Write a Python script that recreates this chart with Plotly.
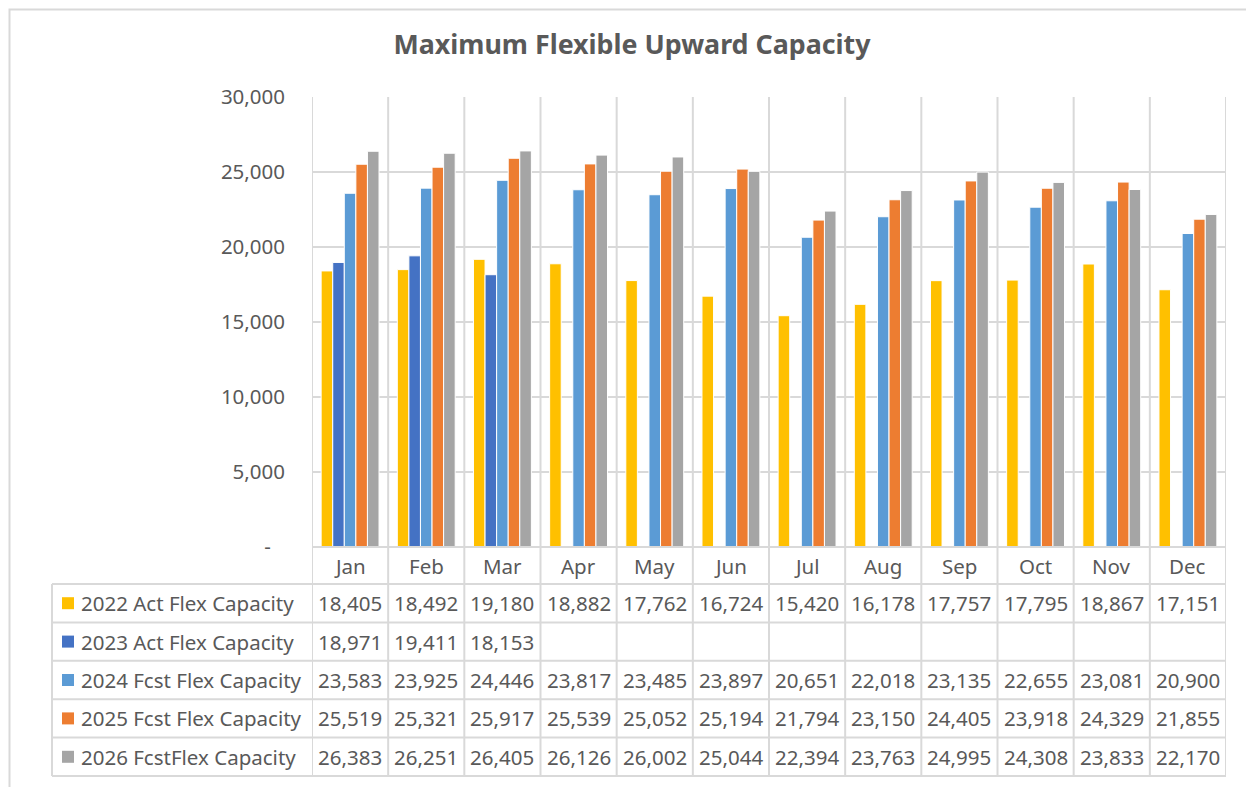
import plotly.graph_objects as go

months = ["Jan", "Feb", "Mar", "Apr", "May", "Jun", "Jul", "Aug", "Sep", "Oct", "Nov", "Dec"]
series_names = ["2022 Act Flex Capacity", "2023 Act Flex Capacity", "2024 Fcst Flex Capacity",
                "2025 Fcst Flex Capacity", "2026 FcstFlex Capacity"]
act_2022 = [18405, 18492, 19180, 18882, 17762, 16724, 15420, 16178, 17757, 17795, 18867, 17151]
act_2023 = [18971, 19411, 18153, None, None, None, None, None, None, None, None, None]
fcst_2024 = [23583, 23925, 24446, 23817, 23485, 23897, 20651, 22018, 23135, 22655, 23081, 20900]
fcst_2025 = [25519, 25321, 25917, 25539, 25052, 25194, 21794, 23150, 24405, 23918, 24329, 21855]
fcst_2026 = [26383, 26251, 26405, 26126, 26002, 25044, 22394, 23763, 24995, 24308, 23833, 22170]
colors = ["#FFC000", "#4472C4", "#5B9BD5", "#ED7D31", "#A5A5A5"]
ytick_vals = [0, 5000, 10000, 15000, 20000, 25000, 30000]
ytick_text = ["-\u00a0\u00a0\u2009", "5,000", "10,000", "15,000", "20,000", "25,000", "30,000"]

all_series = [act_2022, act_2023, fcst_2024, fcst_2025, fcst_2026]

OFF = 8  # page body margin
W, H = 1254 - OFF, 787 - OFF
FONT = "Noto Sans"
TXT = "#595959"
GRID = "#D9D9D9"
FS = 20.5

def px(x):
    return (x - OFF) / W

def py(y):
    return 1 - (y - OFF) / H

plot_l, plot_r, plot_t, plot_b = 312, 1226, 97, 547
table_l = 52
header_b = 584
row_h = 38.4
n_rows = len(series_names)
table_b = header_b + row_h * n_rows

fig = go.Figure()
for name, vals, c in zip(series_names, all_series, colors):
    fig.add_trace(go.Bar(x=months, y=vals, name=name, marker=dict(color=c, line=dict(color="white", width=1)),
                         showlegend=False))

shapes = []
annotations = []

# outer chart border (top and left edges visible)
shapes.append(dict(type="rect", xref="paper", yref="paper", x0=px(9.5), x1=px(1262), y0=py(9.5), y1=py(800),
                   line=dict(color=GRID, width=2), fillcolor="rgba(0,0,0,0)", layer="below"))

# vertical gridlines at category boundaries (plot + table)
n = len(months)
for i in range(n + 1):
    shapes.append(dict(type="line", xref="x", yref="paper", x0=i - 0.5, x1=i - 0.5,
                       y0=py(plot_t), y1=py(table_b), line=dict(color=GRID, width=2), layer="below"))
# axis line / header top
shapes.append(dict(type="line", xref="paper", yref="paper", x0=px(plot_l), x1=px(plot_r),
                   y0=py(plot_b), y1=py(plot_b), line=dict(color=GRID, width=2)))
# table horizontal lines
for k in range(n_rows + 1):
    yy = header_b + row_h * k
    shapes.append(dict(type="line", xref="paper", yref="paper", x0=px(table_l), x1=px(plot_r),
                       y0=py(yy), y1=py(yy), line=dict(color=GRID, width=2)))
# table left border
shapes.append(dict(type="line", xref="paper", yref="paper", x0=px(table_l), x1=px(table_l),
                   y0=py(header_b), y1=py(table_b), line=dict(color=GRID, width=2)))

# header month labels
for i, m in enumerate(months):
    annotations.append(dict(x=i, xref="x", y=py((plot_b + header_b) / 2), yref="paper", text=m,
                            showarrow=False, font=dict(family=FONT, size=FS, color=TXT),
                            xanchor="center", yanchor="middle"))

# rows
for r, (name, vals, c) in enumerate(zip(series_names, all_series, colors)):
    yc = header_b + row_h * (r + 0.5)
    shapes.append(dict(type="rect", xref="paper", yref="paper", x0=px(62), x1=px(74),
                       y0=py(yc - 6), y1=py(yc + 6), fillcolor=c, line=dict(width=0)))
    annotations.append(dict(x=px(79), xref="paper", y=py(yc), yref="paper", text=name, showarrow=False,
                            font=dict(family=FONT, size=FS, color=TXT), xanchor="left", yanchor="middle"))
    for i, v in enumerate(vals):
        if v is None:
            continue
        annotations.append(dict(x=i, xref="x", y=py(yc), yref="paper", text=f"{v:,}", showarrow=False,
                                font=dict(family=FONT, size=FS, color=TXT), xanchor="center", yanchor="middle"))

fig.update_layout(
    width=W, height=H,
    margin=dict(l=0, r=0, t=0, b=0, autoexpand=False),
    paper_bgcolor="white", plot_bgcolor="white",
    barmode="group", bargap=0.24, bargroupgap=0,
    title=dict(text="<b>Maximum Flexible Upward Capacity</b>", x=px(632), xanchor="center",
               y=py(45), yanchor="middle", font=dict(family=FONT, size=26.8, color=TXT)),
    xaxis=dict(domain=[px(plot_l), px(plot_r)], range=[-0.5, n - 0.5], showticklabels=False,
               showgrid=False, zeroline=False, showline=False, fixedrange=True, automargin=False),
    yaxis=dict(domain=[py(plot_b), py(plot_t)], range=[0, 30000], tickvals=ytick_vals, ticktext=ytick_text,
               showgrid=True, gridcolor=GRID, gridwidth=2, zeroline=False, showline=False, automargin=False,
               tickfont=dict(family=FONT, size=FS, color=TXT), ticks="", ticklabelstandoff=26),
    shapes=shapes, annotations=annotations,
)

fig.write_html("out.html")
